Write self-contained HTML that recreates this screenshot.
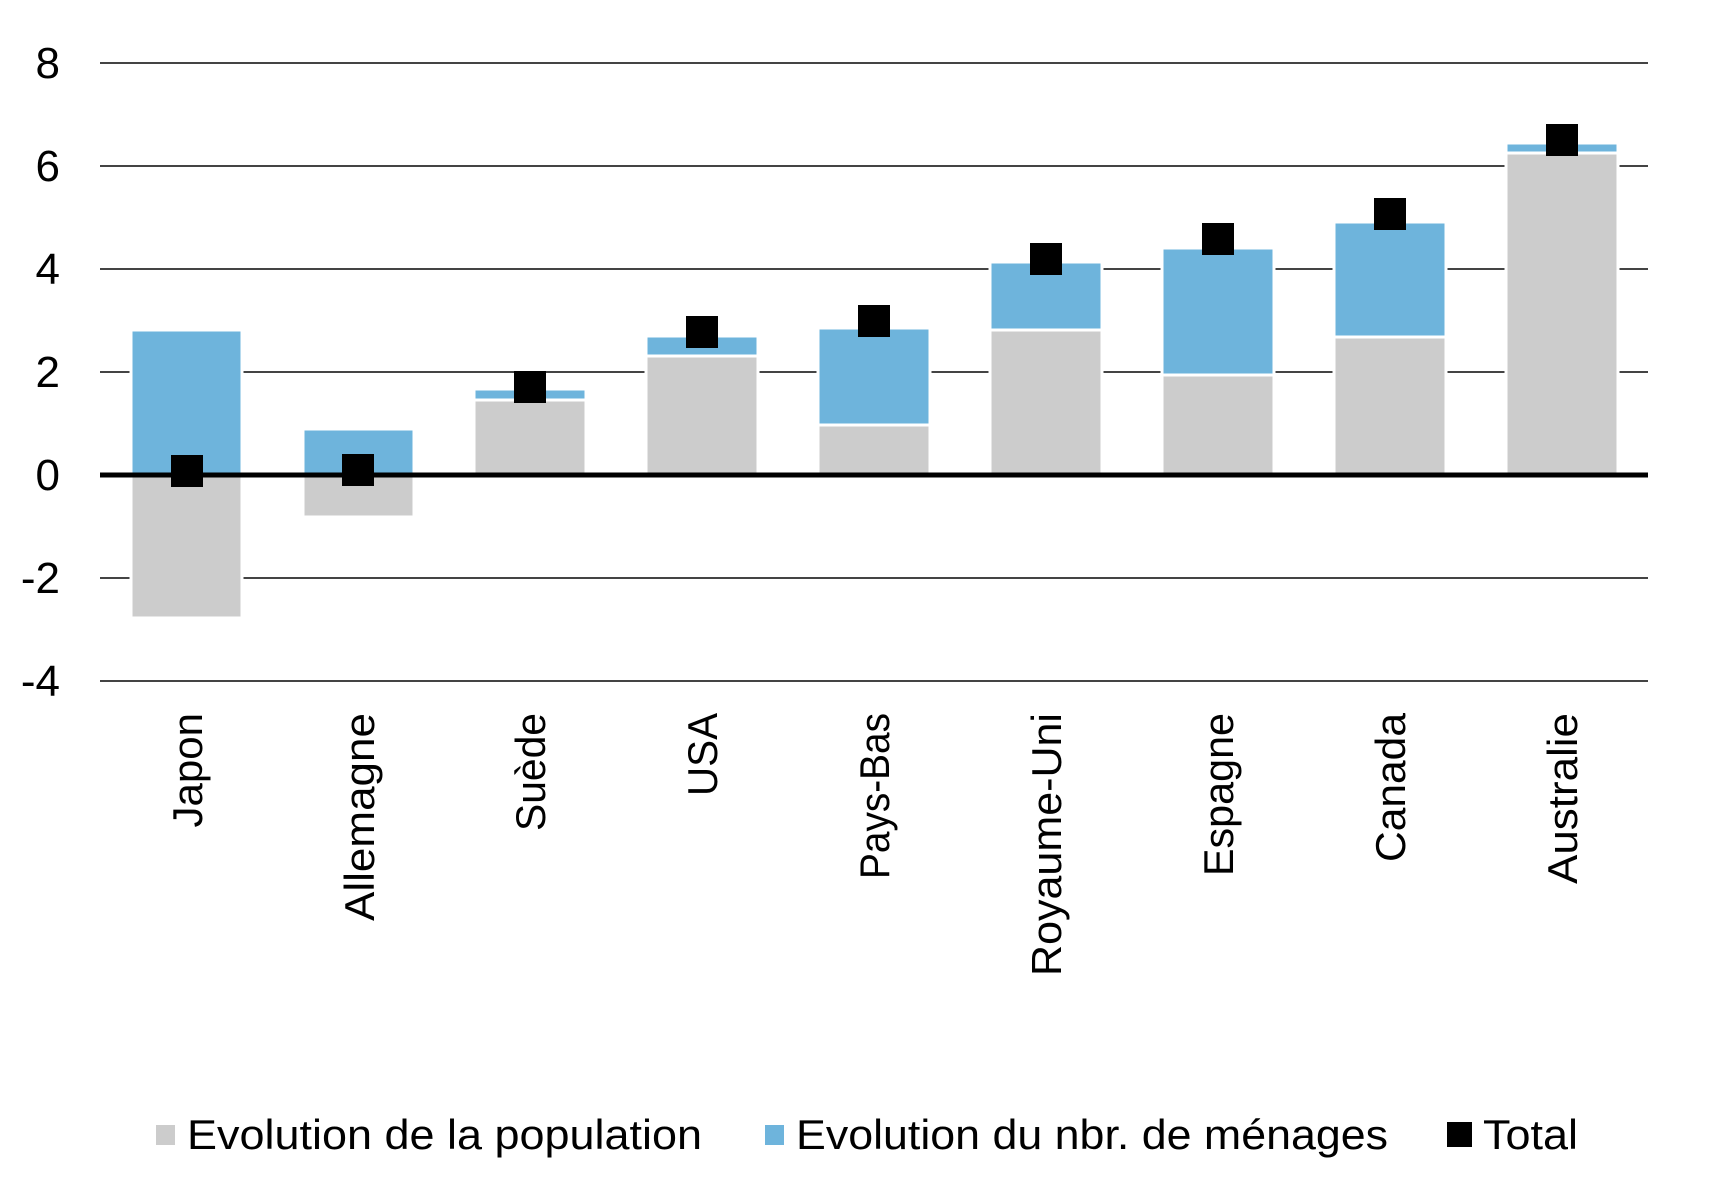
<!DOCTYPE html>
<html><head><meta charset="utf-8"><style>html,body{margin:0;padding:0;background:#fff}svg{display:block}</style></head>
<body>
<svg width="1714" height="1202" viewBox="0 0 1714 1202" xmlns="http://www.w3.org/2000/svg" font-family="Liberation Sans, DejaVu Sans, sans-serif">
<g stroke="#444" stroke-width="2">
<line x1="100" y1="63" x2="1648" y2="63"/>
<line x1="100" y1="166" x2="1648" y2="166"/>
<line x1="100" y1="269" x2="1648" y2="269"/>
<line x1="100" y1="372" x2="1648" y2="372"/>
<line x1="100" y1="578" x2="1648" y2="578"/>
<line x1="100" y1="681" x2="1648" y2="681"/>
</g>
<g font-size="44" fill="#000" text-anchor="end">
<text x="60" y="78">8</text><text x="60" y="181">6</text><text x="60" y="284">4</text><text x="60" y="387">2</text><text x="60" y="490">0</text><text x="60" y="593">-2</text><text x="60" y="696">-4</text>
</g>
<g stroke="#fff" stroke-width="3">
<rect x="131" y="330" width="111" height="145" fill="#6eb4dc"/>
<rect x="131" y="475" width="111" height="143" fill="#cccccc"/>
<rect x="303" y="429" width="111" height="46" fill="#6eb4dc"/>
<rect x="303" y="475" width="111" height="42" fill="#cccccc"/>
<rect x="474" y="389" width="112" height="11" fill="#6eb4dc"/>
<rect x="474" y="400" width="112" height="75" fill="#cccccc"/>
<rect x="646" y="336" width="112" height="20" fill="#6eb4dc"/>
<rect x="646" y="356" width="112" height="119" fill="#cccccc"/>
<rect x="818" y="328" width="112" height="97" fill="#6eb4dc"/>
<rect x="818" y="425" width="112" height="50" fill="#cccccc"/>
<rect x="990" y="262" width="112" height="68" fill="#6eb4dc"/>
<rect x="990" y="330" width="112" height="145" fill="#cccccc"/>
<rect x="1162" y="248" width="112" height="127" fill="#6eb4dc"/>
<rect x="1162" y="375" width="112" height="100" fill="#cccccc"/>
<rect x="1334" y="222" width="112" height="115" fill="#6eb4dc"/>
<rect x="1334" y="337" width="112" height="138" fill="#cccccc"/>
<rect x="1506" y="143" width="112" height="10" fill="#6eb4dc"/>
<rect x="1506" y="153" width="112" height="322" fill="#cccccc"/>
</g>
<line x1="100" y1="475" x2="1648" y2="475" stroke="#000" stroke-width="5"/>
<g fill="#000">
<rect x="171" y="455" width="32" height="32"/>
<rect x="342" y="454" width="32" height="32"/>
<rect x="514" y="371" width="32" height="32"/>
<rect x="686" y="316" width="32" height="32"/>
<rect x="858" y="305" width="32" height="32"/>
<rect x="1030" y="243" width="32" height="32"/>
<rect x="1202" y="223" width="32" height="32"/>
<rect x="1374" y="198" width="32" height="32"/>
<rect x="1546" y="124" width="32" height="32"/>
</g>
<g font-size="42" fill="#000" text-anchor="end">
<text transform="translate(202,713) rotate(-90)">Japon</text>
<text transform="translate(374,713) rotate(-90)" textLength="208" lengthAdjust="spacingAndGlyphs">Allemagne</text>
<text transform="translate(545,713) rotate(-90)" textLength="118" lengthAdjust="spacingAndGlyphs">Suède</text>
<text transform="translate(717,713) rotate(-90)" textLength="83" lengthAdjust="spacingAndGlyphs">USA</text>
<text transform="translate(889,713) rotate(-90)" textLength="166" lengthAdjust="spacingAndGlyphs">Pays-Bas</text>
<text transform="translate(1061,713) rotate(-90)" textLength="263" lengthAdjust="spacingAndGlyphs">Royaume-Uni</text>
<text transform="translate(1233,713) rotate(-90)" textLength="163" lengthAdjust="spacingAndGlyphs">Espagne</text>
<text transform="translate(1405,713) rotate(-90)" textLength="149" lengthAdjust="spacingAndGlyphs">Canada</text>
<text transform="translate(1577,713) rotate(-90)" textLength="171" lengthAdjust="spacingAndGlyphs">Australie</text>
</g>
<rect x="156" y="1125" width="19" height="20" fill="#cccccc"/>
<rect x="765" y="1125" width="19" height="20" fill="#6eb4dc"/>
<rect x="1447" y="1122" width="25" height="25" fill="#000"/>
<g font-size="42" fill="#000">
<text x="187" y="1149" textLength="515" lengthAdjust="spacingAndGlyphs">Evolution de la population</text>
<text x="796" y="1149" textLength="592" lengthAdjust="spacingAndGlyphs">Evolution du nbr. de ménages</text>
<text x="1483" y="1149" textLength="95" lengthAdjust="spacingAndGlyphs">Total</text>
</g>
</svg>
</body></html>
